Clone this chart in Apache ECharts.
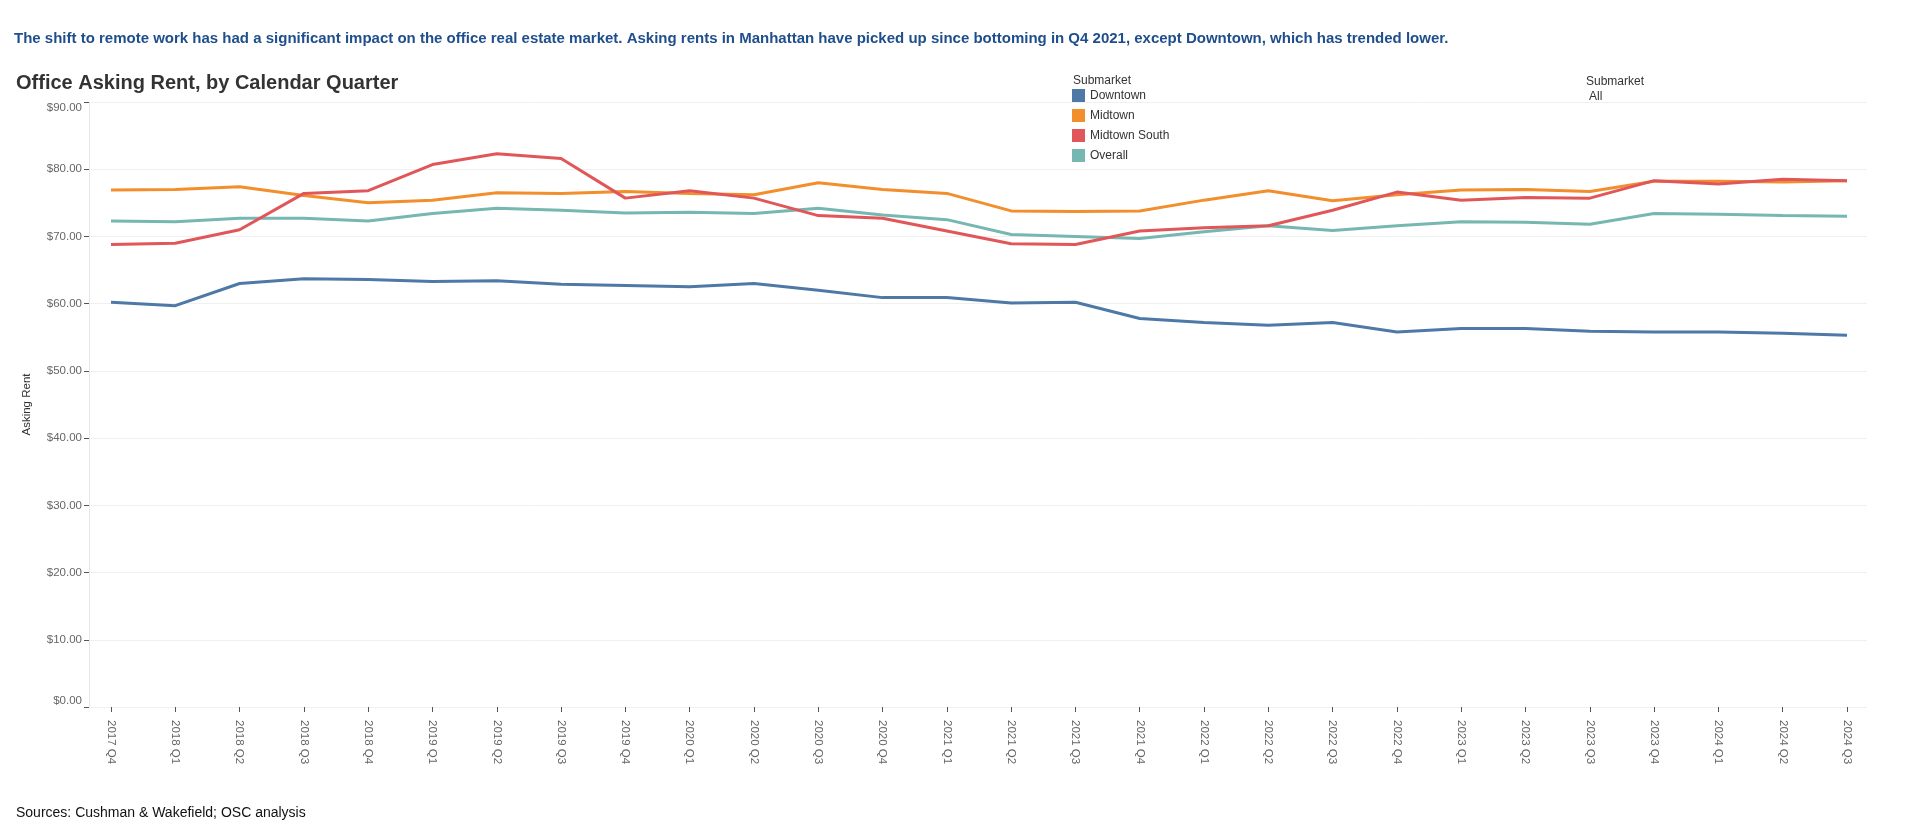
<!DOCTYPE html>
<html>
<head>
<meta charset="utf-8">
<script src="https://cdn.jsdelivr.net/npm/echarts@6/dist/echarts.min.js"></script>
<style>
html,body{margin:0;padding:0;background:#fff;}
#main{width:1920px;height:831px;}
</style>
</head>
<body>
<div id="main"></div>
<script>
const categories = ['2017 Q4','2018 Q1','2018 Q2','2018 Q3','2018 Q4','2019 Q1','2019 Q2','2019 Q3','2019 Q4','2020 Q1','2020 Q2','2020 Q3','2020 Q4','2021 Q1','2021 Q2','2021 Q3','2021 Q4','2022 Q1','2022 Q2','2022 Q3','2022 Q4','2023 Q1','2023 Q2','2023 Q3','2023 Q4','2024 Q1','2024 Q2','2024 Q3'];
const downtown = [60.2, 59.7, 63.0, 63.7, 63.6, 63.3, 63.4, 62.9, 62.7, 62.5, 63.0, 62.0, 60.9, 60.9, 60.1, 60.2, 57.8, 57.2, 56.8, 57.2, 55.8, 56.3, 56.3, 55.9, 55.8, 55.8, 55.6, 55.3];
const midtown = [76.9, 77.0, 77.4, 76.1, 75.0, 75.4, 76.5, 76.4, 76.7, 76.4, 76.2, 78.0, 77.0, 76.4, 73.8, 73.7, 73.8, 75.4, 76.8, 75.3, 76.2, 76.9, 77.0, 76.7, 78.2, 78.2, 78.1, 78.3];
const midtownSouth = [68.8, 69.0, 71.0, 76.4, 76.8, 80.7, 82.3, 81.6, 75.7, 76.8, 75.7, 73.1, 72.7, 70.8, 68.9, 68.8, 70.8, 71.3, 71.6, 73.9, 76.6, 75.4, 75.8, 75.7, 78.3, 77.8, 78.5, 78.3];
const overall = [72.3, 72.2, 72.7, 72.7, 72.3, 73.4, 74.2, 73.9, 73.5, 73.6, 73.4, 74.2, 73.2, 72.5, 70.3, 70.0, 69.7, 70.7, 71.6, 70.9, 71.6, 72.2, 72.1, 71.8, 73.4, 73.3, 73.1, 73.0];
const yTicks = [0, 10, 20, 30, 40, 50, 60, 70, 80, 90];

const chart = echarts.init(document.getElementById('main'), null, {renderer: 'canvas'});
const FONT = 'Liberation Sans, Arial, sans-serif';
const colors = ['#4e79a7', '#f28e2b', '#e15759', '#76b7b2'];
const names = ['Downtown', 'Midtown', 'Midtown South', 'Overall'];
const seriesData = [downtown, midtown, midtownSouth, overall];

const option = {
  animation: false,
  backgroundColor: '#fff',
  textStyle: {fontFamily: FONT},
  title: [
    {text: 'The shift to remote work has had a significant impact on the office real estate market. Asking rents in Manhattan have picked up since bottoming in Q4 2021, except Downtown, which has trended lower.',
     left: 9, top: 26, textStyle: {fontSize: 15, fontWeight: 'bold', color: '#1f4e8c', fontFamily: FONT}},
    {text: 'Office Asking Rent, by Calendar Quarter', left: 11, top: 68,
     textStyle: {fontSize: 20, fontWeight: 'bold', color: '#333', fontFamily: FONT}},
    {text: 'Submarket', left: 1068, top: 70, textStyle: {fontSize: 12, fontWeight: 'normal', color: '#333', fontFamily: FONT}},
    {text: 'Submarket', left: 1581, top: 71, textStyle: {fontSize: 12, fontWeight: 'normal', color: '#333', fontFamily: FONT}},
    {text: 'All', left: 1584, top: 86, textStyle: {fontSize: 12, fontWeight: 'normal', color: '#333', fontFamily: FONT}},
    {text: 'Sources: Cushman & Wakefield; OSC analysis', left: 11, top: 801,
     textStyle: {fontSize: 14, fontWeight: 'normal', color: '#111', fontFamily: FONT}}
  ],
  legend: {
    orient: 'vertical', left: 1067, top: 84,
    itemWidth: 13, itemHeight: 13, itemGap: 7,
    icon: 'rect',
    data: names,
    textStyle: {fontSize: 12, color: '#333', fontFamily: FONT}
  },
  grid: [
    {left: 89, right: 53, top: 102, bottom: 124},
    {left: 111, right: 73, top: 102, bottom: 124}
  ],
  xAxis: [
    {type: 'value', gridIndex: 0, min: 0, max: 1, show: false},
    {type: 'category', gridIndex: 1, data: categories, boundaryGap: false,
     axisLine: {show: false},
     axisTick: {show: true, alignWithLabel: true, length: 5, lineStyle: {color: '#555'}},
     axisLabel: {rotate: -90, fontSize: 11.5, color: '#666', margin: 13, fontFamily: FONT, interval: 0},
     splitLine: {show: false}}
  ],
  yAxis: [
    {type: 'value', gridIndex: 0, min: 0, max: 90, interval: 10,
     name: 'Asking Rent', nameLocation: 'middle', nameGap: 56, nameRotate: 90,
     nameTextStyle: {fontSize: 11.5, color: '#333', fontWeight: 'normal', fontFamily: FONT},
     axisLine: {show: true, lineStyle: {color: '#e6e6e6'}},
     axisTick: {show: true, length: 5, inside: false, lineStyle: {color: '#555'}},
     axisLabel: {fontSize: 11.5, color: '#666', margin: 7, fontFamily: FONT,
                 verticalAlignMaxLabel: 'top', verticalAlignMinLabel: 'bottom',
                 formatter: v => '$' + v.toFixed(2)},
     splitLine: {show: true, lineStyle: {color: '#f0f0f0', width: 1}}},
    {type: 'value', gridIndex: 1, min: 0, max: 90, interval: 10, show: false,
     splitLine: {show: false}}
  ],
  series: seriesData.map((d, i) => ({
    name: names[i], type: 'line', xAxisIndex: 1, yAxisIndex: 1,
    data: d, showSymbol: false, symbol: 'none',
    lineStyle: {width: 3, color: colors[i]}, itemStyle: {color: colors[i]},
    z: [2, 3, 4, 1][i]
  }))
};
chart.setOption(option);
</script>
</body>
</html>
